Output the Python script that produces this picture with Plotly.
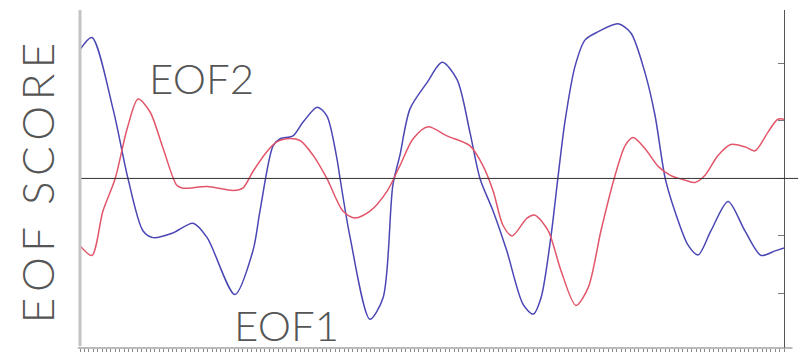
import plotly.graph_objects as go

# Month index along the record and EOF scores for the two leading modes
eof1_t = [0, 2.7, 7.5, 10.9, 14.3, 16.6, 21.1, 25.7, 28.9, 35.2, 39.3, 40.9, 43.9, 45.5,
          48.4, 50.7, 53.9, 56.1, 58.4, 59.1, 61.4, 65.9, 68.9, 71.1, 72.7, 75.0, 78.9,
          82.3, 85.7, 88.6, 90.9, 93.9, 97.0, 100.7, 103.0, 104.8, 107.0, 108.6, 110.2,
          112.5, 114.8, 117.7, 122.3, 125.2, 128.4, 130.7, 133.0, 135.2, 138.2, 140.5,
          143.4, 147.3, 151.1, 154.8, 158.0, 160]
eof1_v = [2.24, 2.45, 1.21, 0.0, -0.91, -1.03, -0.95, -0.78, -1.03, -2.02, -1.26, -0.57,
          0.57, 0.69, 0.74, 0.98, 1.24, 1.09, 0.34, 0.0, -1.03, -2.45, -2.07, -0.12, 0.40,
          1.21, 1.67, 2.02, 1.72, 0.81, 0.0, -0.57, -1.26, -2.19, -2.36, -2.07, -1.03, 0.0,
          0.98, 1.95, 2.41, 2.55, 2.69, 2.53, 1.84, 1.09, 0.0, -0.57, -1.16, -1.33, -0.91,
          -0.40, -0.91, -1.34, -1.26, -1.21]

eof2_t = [0, 2.7, 5.2, 8.0, 10.7, 13.2, 15.9, 18.9, 22.0, 23.4, 28.9, 34.8, 37.0, 39.3,
          42.5, 44.8, 47.0, 50.0, 53.0, 56.1, 59.8, 62.5, 65.9, 69.8, 72.7, 75.7, 79.1,
          83.4, 88.6, 91.6, 93.9, 96.1, 98.2, 101.6, 103.4, 106.4, 109.3, 112.7, 115.5,
          118.4, 121.6, 123.9, 125.7, 128.4, 131.4, 134.3, 137.5, 139.8, 142.0, 145.0,
          147.9, 151.1, 153.4, 156.4, 158.6, 160]
eof2_v = [-1.17, -1.34, -0.57, 0.0, 0.86, 1.38, 1.16, 0.52, -0.12, -0.17, -0.14, -0.21,
          -0.17, 0.12, 0.47, 0.64, 0.69, 0.66, 0.40, 0.0, -0.57, -0.69, -0.57, -0.22, 0.22,
          0.69, 0.90, 0.74, 0.57, 0.22, -0.22, -0.81, -1.0, -0.69, -0.64, -0.91, -1.60,
          -2.21, -1.90, -0.91, 0.05, 0.57, 0.71, 0.52, 0.21, 0.05, -0.03, -0.07, 0.05, 0.40,
          0.59, 0.55, 0.48, 0.81, 1.03, 1.03]

y_ticks = [-2, -1, 0, 1, 2]

TEXT_FONT = dict(family="Lato", color="#555555", size=42, weight=300)
TITLE_FONT = dict(family="Lato", color="#555555", size=44, weight=300)
GAP = "\u2009"

fig = go.Figure()
fig.add_trace(go.Scatter(x=eof1_t, y=eof1_v, mode="lines", name="EOF1",
                         line=dict(color="#4a47b5", width=1.5, shape="spline", smoothing=0.8)))
fig.add_trace(go.Scatter(x=eof2_t, y=eof2_v, mode="lines", name="EOF2",
                         line=dict(color="#e2566a", width=1.5, shape="spline", smoothing=0.8)))

# zero reference line running past the right axis
fig.add_shape(type="line", xref="paper", yref="y", x0=0, x1=1.02, y0=0, y1=0,
              line=dict(color="#333333", width=1))
# soft left frame edge
fig.add_shape(type="line", xref="paper", yref="paper", x0=0, x1=0, y0=0.005, y1=1,
              line=dict(color="#c4c4c4", width=3))
# bottom base line extends slightly beyond the right axis
fig.add_shape(type="line", xref="paper", yref="paper", x0=-0.003, x1=1.012, y0=0, y1=0,
              line=dict(color="#777777", width=1.2))

fig.add_annotation(text="EOF2", x=0.173, y=0.80, xref="paper", yref="paper",
                   xanchor="center", yanchor="middle", showarrow=False, font=TEXT_FONT)
fig.add_annotation(text="EOF1", x=0.293, y=0.067, xref="paper", yref="paper",
                   xanchor="center", yanchor="middle", showarrow=False, font=TEXT_FONT)
title_text = GAP.join("EOF") + "\u2002" + GAP.join("SCORE")
fig.add_annotation(text=title_text, x=-0.06, y=0.49, xref="paper", yref="paper",
                   xanchor="center", yanchor="middle",
                   showarrow=False, textangle=-90, font=TITLE_FONT)

fig.update_layout(
    width=798, height=361,
    margin=dict(l=80, r=14, t=10, b=10),
    paper_bgcolor="white", plot_bgcolor="white",
    showlegend=False,
    xaxis=dict(range=[0, 160], showgrid=False, zeroline=False, showline=False,
               ticks="outside", ticklen=3, tickwidth=1, tickcolor="#888888",
               tick0=0, dtick=1, showticklabels=False,
               minor=dict(ticks="outside", ticklen=5, tickcolor="#777777", dtick=4)),
    yaxis=dict(range=[-2.95, 2.93], side="right", showgrid=False, zeroline=False,
               showline=True, linecolor="#555555", linewidth=1.2, mirror=False,
               ticks="inside", ticklen=6, tickcolor="#777777",
               tickvals=y_ticks, showticklabels=False),
)

fig.write_html("out.html")
